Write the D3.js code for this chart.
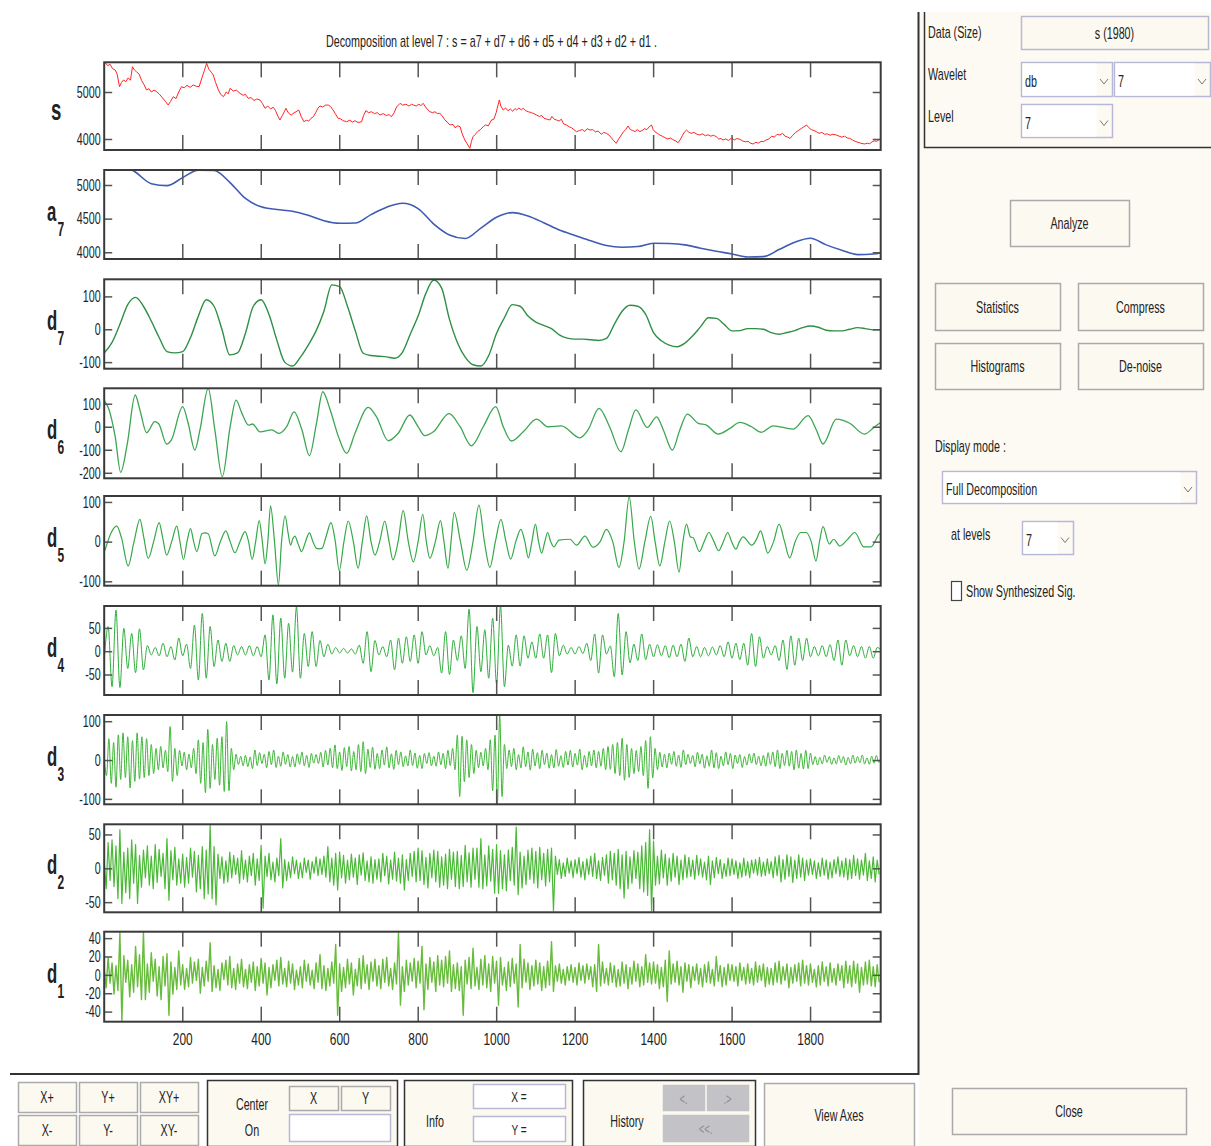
<!DOCTYPE html>
<html>
<head>
<meta charset="utf-8">
<script src="https://cdn.jsdelivr.net/npm/d3@7"></script>
<style>
body{margin:0;background:#fff;}
svg{display:block;}
text{font-family:"Liberation Sans",Arial,Helvetica,sans-serif;fill:#222;}
</style>
</head>
<body>
<svg id="fig" width="1211" height="1146"></svg>
<script>
// ---- data ----
var nSamples = 1980;
var xTicks = [200,400,600,800,1000,1200,1400,1600,1800];
var title = "Decomposition at level 7 : s = a7 + d7 + d6 + d5 + d4 + d3 + d2 + d1 .";

// s : [sample, value]
var sSig = [[1,5600],[3,5632],[10,5560],[16,5590],[22,5500],[29,5468],[34,5380],[40,5113],[45,5200],[50,5255],[56,5220],[62,5300],[68,5250],[73,5538],[78,5470],[83,5432],[90,5380],[96,5250],[103,5150],[109,5043],[115,5070],[121,5000],[128,5040],[135,5006],[142,4950],[150,4872],[157,4800],[164,4723],[170,4800],[177,4900],[184,4860],[191,5000],[198,5113],[205,5090],[212,5140],[220,5100],[228,5149],[236,5120],[243,5113],[250,5300],[256,5450],[262,5610],[268,5480],[274,5420],[279,5362],[285,5200],[292,5043],[298,4950],[305,4900],[312,5000],[317,4960],[322,5079],[330,5020],[338,5040],[347,4972],[355,4930],[361,4950],[368,4865],[375,4880],[383,4820],[390,4850],[398,4830],[404,4760],[411,4653],[418,4700],[425,4640],[432,4674],[438,4600],[444,4480],[449,4404],[455,4500],[460,4580],[464,4653],[470,4560],[474,4530],[478,4510],[485,4560],[490,4580],[497,4617],[503,4480],[510,4368],[516,4400],[522,4380],[528,4440],[534,4474],[540,4560],[546,4660],[551,4702],[558,4680],[565,4720],[572,4723],[578,4690],[584,4620],[590,4540],[597,4440],[603,4430],[610,4390],[619,4368],[627,4400],[634,4360],[640,4390],[648,4350],[657,4368],[662,4500],[668,4603],[675,4560],[682,4580],[690,4540],[697,4560],[704,4510],[712,4540],[720,4500],[727,4520],[733,4474],[740,4560],[746,4680],[755,4759],[762,4720],[770,4740],[778,4700],[784,4740],[789,4723],[796,4700],[803,4740],[808,4710],[814,4759],[820,4680],[826,4620],[831,4581],[838,4560],[844,4580],[850,4540],[856,4546],[862,4500],[868,4420],[875,4360],[882,4298],[890,4310],[895,4240],[902,4280],[908,4262],[913,4120],[920,3979],[926,3900],[933,3802],[937,3950],[941,4049],[947,4100],[953,4160],[960,4200],[967,4262],[973,4300],[980,4280],[988,4404],[994,4420],[1000,4560],[1004,4700],[1008,4830],[1012,4700],[1018,4617],[1024,4660],[1030,4600],[1036,4640],[1042,4590],[1048,4650],[1052,4617],[1058,4660],[1064,4620],[1069,4653],[1076,4600],[1082,4580],[1090,4560],[1096,4540],[1103,4510],[1110,4480],[1116,4500],[1122,4440],[1130,4420],[1137,4404],[1142,4480],[1148,4420],[1154,4404],[1160,4380],[1166,4420],[1172,4320],[1179,4298],[1186,4260],[1192,4240],[1198,4200],[1205,4156],[1212,4180],[1220,4200],[1226,4160],[1232,4220],[1239,4191],[1246,4200],[1253,4150],[1260,4170],[1268,4100],[1274,4140],[1281,4120],[1288,4080],[1294,4020],[1300,3960],[1306,3908],[1312,4000],[1319,4085],[1324,4150],[1330,4200],[1336,4277],[1342,4200],[1348,4180],[1354,4160],[1360,4200],[1366,4156],[1372,4180],[1378,4220],[1384,4200],[1390,4260],[1396,4298],[1400,4200],[1405,4150],[1411,4120],[1417,4085],[1423,4060],[1430,4030],[1437,4000],[1444,4020],[1450,3990],[1457,3960],[1464,3921],[1470,4000],[1475,4080],[1480,4150],[1485,4191],[1490,4150],[1497,4120],[1504,4140],[1512,4100],[1519,4085],[1526,4110],[1533,4070],[1540,4090],[1547,4060],[1554,4080],[1561,4049],[1567,4000],[1573,4010],[1578,3979],[1585,4000],[1592,3970],[1600,4020],[1607,3980],[1614,4010],[1621,3994],[1628,3960],[1635,3940],[1642,3950],[1648,3910],[1655,3894],[1662,3930],[1668,3910],[1675,3950],[1681,3943],[1688,3980],[1695,4000],[1702,4060],[1709,4040],[1716,4100],[1723,4085],[1730,4120],[1736,4060],[1743,4040],[1749,4014],[1756,4080],[1763,4140],[1770,4180],[1777,4220],[1784,4260],[1791,4298],[1797,4240],[1803,4200],[1810,4180],[1816,4156],[1823,4120],[1830,4140],[1837,4100],[1844,4110],[1851,4080],[1858,4100],[1867,4085],[1874,4060],[1881,4040],[1888,4060],[1895,4020],[1901,4014],[1908,3980],[1915,3950],[1922,3930],[1929,3910],[1935,3900],[1939,3894],[1946,3910],[1952,3900],[1958,3940],[1964,3960],[1970,3950],[1977,3994],[1980,3990]];

// a7 : one value every 40 samples
var a7Step = 40;
var a7Vals = [5420,5330,5190,5020,4990,5110,5220,5215,5040,4800,4675,4635,4610,4550,4470,4432,4435,4560,4670,4728,4650,4420,4258,4205,4360,4520,4590,4540,4440,4330,4250,4170,4100,4075,4085,4135,4130,4110,4060,4015,3975,3930,3935,4040,4150,4209,4110,4030,3965,3975,3990];

// d7 : one value every 20 samples
var d7Step = 20;
var d7Vals = [-72,-40,15,75,97,70,25,-25,-68,-72,-68,-25,40,90,70,0,-78,-72,-12,70,90,45,-33,-100,-112,-85,-48,-5,55,135,130,70,-5,-73,-80,-82,-84,-88,-70,-15,40,110,150,125,30,-40,-85,-108,-112,-80,-12,35,75,70,40,22,12,2,-17,-27,-30,-30,-32,-34,-28,15,55,73,70,45,-10,-35,-48,-53,-42,-20,8,35,33,15,-5,-4,2,2,0,-10,-15,-10,-4,5,10,6,-3,-5,-5,0,5,2,-2,-2];

// d6 : [sample, value]
var d6Pts = [[1,115],[3,109],[12,80],[29,-43],[43,-198],[60,-72],[80,138],[92,73],[109,-26],[130,22],[140,13],[160,-75],[172,-58],[201,87],[215,15],[232,-101],[245,-14],[266,167],[283,-14],[302,-217],[322,0],[337,116],[352,58],[369,7],[379,12],[398,-22],[428,-14],[447,-29],[466,0],[485,65],[505,-14],[524,-126],[542,15],[558,152],[577,73],[598,-43],[619,-116],[640,-29],[674,84],[695,43],[725,-61],[750,-29],[780,51],[801,0],[818,-39],[840,-22],[880,57],[908,0],[937,-83],[967,0],[999,87],[1018,0],[1039,-62],[1069,-22],[1103,33],[1132,0],[1166,4],[1213,-48],[1234,-14],[1262,80],[1289,0],[1318,-109],[1337,-14],[1356,73],[1385,-3],[1409,43],[1426,-14],[1449,-101],[1468,-14],[1487,55],[1515,15],[1536,7],[1566,-32],[1596,-7],[1621,19],[1651,0],[1676,-24],[1706,4],[1757,-10],[1795,48],[1816,-14],[1833,-75],[1867,33],[1901,15],[1939,-32],[1960,-7],[1977,15],[1980,18]];

// d5 : [sample, value]
var d5Pts = [[1,-25],[3,-21],[10,0],[20,25],[33,39],[45,10],[62,-61],[77,0],[92,56],[102,10],[113,-42],[127,0],[141,48],[150,10],[160,-34],[173,0],[186,39],[194,0],[203,-45],[212,0],[221,33],[229,0],[237,-25],[250,20],[258,22],[266,20],[283,-36],[297,0],[311,27],[322,0],[334,-28],[347,0],[360,25],[369,0],[378,-45],[387,0],[396,53],[404,0],[411,-56],[418,0],[425,90],[435,0],[445,-109],[453,0],[462,65],[470,20],[476,-9],[482,8],[487,14],[495,-5],[504,-25],[514,0],[524,22],[533,0],[542,-17],[549,-18],[556,-17],[567,15],[579,48],[590,0],[600,-73],[612,0],[623,52],[636,0],[648,-67],[659,0],[670,65],[681,0],[691,-34],[703,0],[716,52],[727,0],[737,-46],[750,0],[763,78],[776,0],[789,-51],[801,0],[813,69],[822,0],[831,-42],[845,0],[858,53],[867,0],[877,-67],[885,0],[893,73],[909,0],[925,-72],[941,0],[956,92],[970,0],[984,-65],[998,0],[1012,56],[1025,0],[1037,-44],[1050,0],[1063,31],[1073,0],[1082,-41],[1091,0],[1100,44],[1108,0],[1116,-29],[1124,0],[1131,23],[1139,0],[1147,-13],[1160,4],[1188,6],[1205,-9],[1226,14],[1247,-14],[1265,0],[1281,31],[1297,0],[1313,-65],[1326,0],[1339,113],[1352,0],[1364,-69],[1379,0],[1394,64],[1405,0],[1417,-61],[1430,0],[1442,52],[1454,0],[1466,-77],[1476,0],[1485,44],[1495,12],[1502,10],[1518,-25],[1530,0],[1542,23],[1555,0],[1567,-23],[1579,0],[1590,23],[1600,0],[1611,-19],[1620,0],[1629,12],[1652,-9],[1663,5],[1674,27],[1683,0],[1692,-29],[1707,0],[1721,44],[1735,0],[1748,-41],[1762,0],[1776,23],[1790,23],[1803,0],[1815,-49],[1824,0],[1833,38],[1849,-6],[1860,6],[1876,-11],[1895,5],[1914,23],[1937,-13],[1955,-13],[1977,19],[1980,20]];

// d4 : one value every 10 samples
var d4Step = 10;
var d4Vals = [-19,53,-76,88,-78,49,-37,38,-46,48,-40,12,-8,8,-10,17,-12,10,-19,28,-10,15,-37,56,-62,81,-58,53,-33,24,-22,17,-22,12,-8,10,-8,12,-10,10,-12,35,-62,78,-70,71,-58,60,-45,95,-58,38,-33,42,-33,23,-12,15,-6,8,-4,6,-4,5,-6,13,-26,42,-44,23,-8,10,-12,24,-40,28,-26,31,-22,35,-26,42,-8,12,-10,8,-47,42,-50,24,-20,33,-37,90,-89,53,-44,46,-58,71,-70,97,-76,13,-32,35,-32,33,-15,20,-15,37,-15,35,-46,38,-10,13,-6,8,-6,10,-5,17,-20,37,-47,35,-6,11,-55,81,-51,42,-25,15,-20,37,-18,15,-12,14,-10,12,-14,13,-12,15,-22,28,-12,10,-12,8,-10,9,-8,12,-12,20,-15,17,-18,17,-30,38,-33,31,-15,10,-8,12,-20,24,-39,33,-30,28,-20,28,-12,10,-10,12,-12,14,-20,24,-30,24,-10,12,-12,10,-15,10,-15,8,3];

// d3 : one value every 6 samples
var d3Step = 6;
var d3Vals = [
 5,-40,55,-60,45,-70,65,-50,70,-45, 60,-72,50,-55,70,-49,60,-45,55,-40,
 40,-35,30,-25,35,-20,25,-30,86,-55, 30,-40,25,-15,20,-25,15,-20,30,-35,
 52,-60,45,-84,79,-73,40,-50,56,-65, 60,-81,99,-79,30,-25,15,-12,10,-15,
 12,-17,8,-22,26,-14,19,-9,15,-20, 22,-12,26,-19,10,-16,21,-11,14,-18,
 9,-18,16,-11,21,-15,12,-19,17,-8, 14,-9,20,-18,25,-13,30,-20,39,-22,
 21,-27,32,-17,35,-28,22,-25,40,-30, 47,-35,28,-19,33,-24,17,-22,26,-13,
 34,-20,16,-24,25,-12,21,-17,11,-15, 26,-14,18,-21,12,-22,17,-9,19,-15,
 10,-16,21,-12,17,-22,25,-14,30,-25, 64,-94,61,-56,52,-45,40,-35,25,-20,
 20,-15,30,-25,52,-79,64,-114,116,-94, 40,-22,26,-17,30,-25,14,-20,34,-17,
 21,-26,28,-15,19,-22,25,-12,18,-21, 14,-20,27,-16,11,-19,22,-13,25,-18,
 17,-13,28,-25,12,-19,22,-15,26,-20, 22,-16,30,-25,35,-24,40,-35,45,-40,
 56,-52,40,-45,30,-35,25,-30,35,-40, 50,-73,60,-46,30,-25,20,-18,15,-20,
 18,-11,22,-16,13,-19,26,-12,15,-9, 12,-17,20,-10,15,-21,11,-16,26,-20,
 19,-22,10,-15,21,-12,17,-22,13,-9, 14,-19,9,-13,16,-8,18,-12,10,-15,
 12,-16,19,-11,21,-17,26,-22,17,-14, 25,-16,22,-25,26,-21,17,-23,25,-22,
 18,-12,9,-13,7,-10,13,-6,9,-11, 6,-10,12,-7,9,-13,7,-10,13,-8,
 9,-7,13,-10,6,-11,10,-8,12,-6, 3];

// d2 : one value every 5 samples
var d2Step = 5;
var d2Vals = [
 10,-30,38,-18,42,-27,33,-45,57,-52,24,-36,30,-45,42,-22,35,-52,19,-28,
 27,-14,33,-25,18,-30,35,-21,28,-12,22,-30,44,-47,26,-17,31,-25,14,-22,
 21,-28,16,-22,30,-13,25,-35,19,-30,32,-45,27,-38,64,-45,32,-54,21,-15,
 17,-22,11,-20,24,-14,19,-9,15,-22,26,-16,12,-20,18,-11,22,-25,14,-18,
 34,-59,18,-12,22,-17,9,-20,15,-11,44,-29,13,-18,9,-14,17,-8,12,-15,
 8,-14,15,-6,12,-16,10,-7,17,-11,14,-9,18,-13,32,-20,15,-25,22,-32,
 24,-14,19,-22,12,-17,21,-13,15,-24,20,-10,23,-18,11,-20,17,-22,13,-16,
 14,-20,22,-11,18,-23,12,-16,24,-19,15,-22,20,-32,13,-18,22,-12,25,-20,
 30,-18,26,-24,16,-29,22,-14,27,-20,25,-28,17,-25,21,-30,28,-16,24,-27,
 25,-30,19,-27,34,-20,23,-28,30,-16,30,-28,44,-30,20,-26,33,-19,28,-37,
 35,-37,26,-30,20,-33,27,-18,31,-25,61,-39,24,-29,18,-24,27,-16,30,-22,
 25,-29,31,-17,22,-26,28,-20,30,-63,18,-9,13,-15,8,-12,15,-7,11,-14,
 13,-8,16,-13,10,-17,14,-9,18,-12,22,-15,11,-18,16,-10,20,-22,25,-17,
 22,-25,28,-30,20,-44,25,-30,17,-22,26,-15,24,-30,33,-35,38,-40,57,-63,
 40,-25,18,-23,27,-14,21,-25,15,-19,22,-13,18,-24,12,-17,20,-14,16,-12,
 12,-16,19,-10,14,-13,9,-17,18,-24,11,-14,16,-8,13,-15,7,-12,15,-11,
 14,-9,11,-15,8,-13,15,-11,10,-14,12,-7,13,-10,16,-12,9,-11,14,-8,
 10,-14,17,-11,19,-20,13,-16,20,-12,17,-21,12,-15,20,-13,15,-18,12,-10,
 14,-9,11,-15,8,-12,15,-10,12,-16,9,-14,13,-8,17,-12,11,-13,15,-17,
 13,-15,19,-11,14,-16,12,-10,22,-18,11,-15,17,-20,12,-9];

// d1 : one value every 5 samples
var d1Step = 5;
var d1Vals = [
 6,-14,19,-9,13,-21,10,-17,46,-50,21,-8,16,-24,11,-19,31,-13,22,-27,
 47,-27,12,-19,24,-7,17,-23,9,-27,20,-12,23,-44,14,-21,8,-16,26,-11,
 11,-16,7,-13,19,-9,14,-6,17,-20,8,-12,15,-7,35,-18,10,-14,6,-17,
 13,-5,16,-11,20,-14,7,-16,12,-9,17,-13,6,-15,11,-8,14,-17,9,-12,
 18,-9,13,-22,8,-14,11,-6,16,-12,19,-10,7,-13,15,-9,12,-16,5,-11,
 9,-14,16,-7,12,-11,5,-15,13,-8,22,-15,10,-17,7,-12,14,-9,33,-44,
 12,-18,8,-14,17,-10,13,-22,6,-12,18,-15,21,-9,11,-16,14,-7,17,-12,
 10,-15,17,-8,19,-12,7,-16,13,-10,46,-33,9,-18,16,-11,13,-7,18,-14,
 15,-9,31,-38,12,-16,19,-8,14,-18,21,-11,16,-13,20,-9,26,-18,11,-15,
 13,-17,9,-44,16,-10,19,-15,29,-12,8,-16,17,-11,21,-14,12,-18,20,-9,
 15,-33,19,-11,8,-17,14,-13,18,-9,12,-35,33,-14,17,-8,13,-16,10,-12,
 16,-10,13,-17,9,-14,15,-11,36,-18,10,-7,12,-9,6,-11,9,-6,11,-8,
 8,-11,13,-6,10,-9,12,-5,9,-13,11,-18,33,-12,14,-9,7,-11,13,-8,
 10,-13,6,-12,14,-9,11,-15,8,-10,15,-7,12,-13,9,-11,22,-8,13,-10,
 14,-9,11,-15,8,-13,16,-29,26,-10,12,-8,15,-11,9,-19,13,-7,11,-14,
 9,-6,12,-10,7,-13,11,-8,14,-9,6,-12,20,-7,10,-13,8,-11,12,-6,
 11,-7,9,-12,13,-6,8,-10,12,-9,7,-11,14,-8,10,-6,12,-13,8,-10,
 7,-11,13,-8,15,-10,9,-6,12,-14,8,-9,11,-7,13,-12,16,-9,10,-11,
 12,-8,6,-13,10,-11,14,-7,9,-12,13,-8,7,-11,12,-6,10,-14,15,-9,
 10,-13,15,-9,12,-19,8,-11,14,-10,16,-12,9,-13,11,-8];

// y limits and tick values of each panel
var sLim = [3766,5632],  sTicks = [4000,5000];
var a7Lim = [3900,5223], a7Ticks = [4000,4500,5000];
var d7Lim = [-120,152],  d7Ticks = [-100,0,100];
var d6Lim = [-224,167],  d6Ticks = [-200,-100,0,100];
var d5Lim = [-111,115],  d5Ticks = [-100,0,100];
var d4Lim = [-94,97],    d4Ticks = [-50,0,50];
var d3Lim = [-114,116],  d3Ticks = [-100,0,100];
var d2Lim = [-65,65],    d2Ticks = [-50,0,50];
var d1Lim = [-51,47],    d1Ticks = [-40,-20,0,20,40];

// ---- drawing ----
var svg = d3.select("#fig");
var SX = 0.67;

function label(parent, x, y, str, o) {
	o = o || {};
	var t = parent.append("text")
		.attr("transform", "translate(" + x + "," + y + ") scale(" + (o.sx || SX) + ",1)")
		.attr("text-anchor", o.anchor || "start")
		.style("font-size", (o.size || 15) + "px")
		.text(str);
	if (o.bold) t.style("font-weight", "bold");
	if (o.fill) t.style("fill", o.fill);
	if (o.len) t.attr("textLength", o.len / (o.sx || SX)).attr("lengthAdjust", "spacingAndGlyphs");
	return t;
}
function stepped(vals, step) {
	return vals.map(function(v, i) { return [Math.min(1 + i * step, nSamples), v]; });
}
var plain = function(d) { return String(d); };

var x = d3.scaleLinear().domain([1, nSamples]).range([104.2, 880.7]);

var panels = [
	{name:"s",  sub:"",  pts:sSig,                    lim:sLim,  ticks:sTicks,  top:62.3,  bot:150,   color:"#ff2424", w:1,   curve:d3.curveLinear},
	{name:"a",  sub:"7", pts:stepped(a7Vals, a7Step), lim:a7Lim, ticks:a7Ticks, top:170,   bot:259,   color:"#3f5bb5", w:1.6, curve:d3.curveMonotoneX},
	{name:"d",  sub:"7", pts:stepped(d7Vals, d7Step), lim:d7Lim, ticks:d7Ticks, top:279.3, bot:368.7, color:"#2f8f45", w:1.4, curve:d3.curveMonotoneX},
	{name:"d",  sub:"6", pts:d6Pts,                   lim:d6Lim, ticks:d6Ticks, top:388.3, bot:478.3, color:"#3ca552", w:1.3, curve:d3.curveMonotoneX},
	{name:"d",  sub:"5", pts:d5Pts,                   lim:d5Lim, ticks:d5Ticks, top:496,   bot:585.7, color:"#35a847", w:1.2, curve:d3.curveMonotoneX},
	{name:"d",  sub:"4", pts:stepped(d4Vals, d4Step), lim:d4Lim, ticks:d4Ticks, top:606,   bot:695,   color:"#2fae3c", w:1,   curve:d3.curveMonotoneX},
	{name:"d",  sub:"3", pts:stepped(d3Vals, d3Step), lim:d3Lim, ticks:d3Ticks, top:715,   bot:804.3, color:"#3db535", w:1,   curve:d3.curveMonotoneX},
	{name:"d",  sub:"2", pts:stepped(d2Vals, d2Step), lim:d2Lim, ticks:d2Ticks, top:824.3, bot:912.3, color:"#4ab936", w:1.2, curve:d3.curveLinear},
	{name:"d",  sub:"1", pts:stepped(d1Vals, d1Step), lim:d1Lim, ticks:d1Ticks, top:931.7, bot:1021.7,color:"#68bc3c", w:1.4, curve:d3.curveLinear}
];

label(svg, 491.5, 47, title, {anchor:"middle", size:16, len:331});

panels.forEach(function(p, i) {
	var y = d3.scaleLinear().domain(p.lim).range([p.bot, p.top]);
	var g = svg.append("g");
	var cid = "clip" + i;
	svg.append("clipPath").attr("id", cid).append("rect")
		.attr("x", x.range()[0]).attr("y", p.top)
		.attr("width", x.range()[1] - x.range()[0]).attr("height", p.bot - p.top);

	var line = d3.line().x(function(d) { return x(d[0]); }).y(function(d) { return y(d[1]); }).curve(p.curve);
	g.append("path").datum(p.pts)
		.attr("clip-path", "url(#" + cid + ")")
		.attr("fill", "none").attr("stroke", p.color).attr("stroke-width", p.w)
		.attr("stroke-linejoin", "round")
		.attr("d", line);

	var last = (i === panels.length - 1);
	var axB = g.append("g").attr("transform", "translate(0," + p.bot + ")")
		.call(d3.axisBottom(x).tickValues(xTicks).tickSize(-15).tickPadding(11).tickFormat(last ? plain : ""));
	var axT = g.append("g").attr("transform", "translate(0," + p.top + ")")
		.call(d3.axisTop(x).tickValues(xTicks).tickSize(-15).tickFormat(""));
	var axL = g.append("g").attr("transform", "translate(" + x.range()[0] + ",0)")
		.call(d3.axisLeft(y).tickValues(p.ticks).tickSize(-8).tickFormat(plain));
	var axR = g.append("g").attr("transform", "translate(" + x.range()[1] + ",0)")
		.call(d3.axisRight(y).tickValues(p.ticks).tickSize(-8).tickFormat(""));
	[axB, axT, axL, axR].forEach(function(a) {
		a.select(".domain").remove();
		a.attr("color", "#555").selectAll("line").attr("stroke-width", 1.5);
		a.selectAll("text").style("font-size", "16px").style("fill", "#222");
	});
	axL.selectAll("text").attr("x", -3.5 / SX).attr("dy", "0.33em").attr("transform", "scale(" + SX + ",1)");
	axB.selectAll("text").style("font-size", "17px").attr("transform", "scale(0.7,1)");

	g.append("rect").attr("x", x.range()[0]).attr("y", p.top)
		.attr("width", x.range()[1] - x.range()[0]).attr("height", p.bot - p.top)
		.attr("fill", "none").attr("stroke", "#3a3a3a").attr("stroke-width", 2);

	var mid = (p.top + p.bot) / 2;
	if (p.sub === "") {
		label(svg, 51, mid + 14, p.name, {size:30, bold:true, sx:0.62});
	} else {
		label(svg, 47, mid + 6, p.name, {size:27, bold:true, sx:0.62});
		label(svg, 57.5, mid + 21, p.sub, {size:20, bold:true, sx:0.6});
	}
});

// ---- GUI parts ----
var gui = svg.append("g");
var cream = "#fcfaf2";
gui.append("rect").attr("x", 919).attr("y", 12).attr("width", 292).attr("height", 1134).attr("fill", cream);
gui.append("line").attr("x1", 918.5).attr("x2", 918.5).attr("y1", 12).attr("y2", 1075)
	.attr("stroke", "#333").attr("stroke-width", 2);
gui.append("path").attr("d", "M924.5,12V147.5H1211").attr("fill", "none").attr("stroke", "#333").attr("stroke-width", 1.5);
gui.append("line").attr("x1", 10).attr("x2", 919).attr("y1", 1074).attr("y2", 1074)
	.attr("stroke", "#333").attr("stroke-width", 2);

function button(x0, y0, w, h, str, o) {
	o = o || {};
	gui.append("rect").attr("x", x0 + 0.5).attr("y", y0 + 0.5).attr("width", w).attr("height", h)
		.attr("fill", o.fill || "#fcf9f0").attr("stroke", o.stroke || "#aaaaaa").attr("stroke-width", 1.5);
	if (str) label(gui, x0 + w / 2, y0 + h / 2 + 6, str, {anchor:"middle", size:o.size || 16, fill:o.color});
}
function chevron(cx, cy) {
	gui.append("path").attr("d", "M" + (cx - 4) + "," + (cy - 2) + "L" + cx + "," + (cy + 3) + "L" + (cx + 4) + "," + (cy - 2))
		.attr("fill", "none").attr("stroke", "#777").attr("stroke-width", 1);
}
function popup(x0, y0, w, h, str) {
	gui.append("rect").attr("x", x0 + 0.5).attr("y", y0 + 0.5).attr("width", w).attr("height", h)
		.attr("fill", cream).attr("stroke", "#b8b8d8").attr("stroke-width", 1.5);
	gui.append("rect").attr("x", x0 + 1.5).attr("y", y0 + 1.5).attr("width", w - 17).attr("height", h - 2).attr("fill", "#fff");
	label(gui, x0 + 4, y0 + h / 2 + 8, str, {size:16});
	chevron(x0 + w - 8, y0 + h / 2 + 2);
}
function frame(x0, y0, w, h) {
	gui.append("rect").attr("x", x0 + 0.5).attr("y", y0 + 0.5).attr("width", w).attr("height", h)
		.attr("fill", "#fcf9f0").attr("stroke", "#333").attr("stroke-width", 1.5);
}
function field(x0, y0, w, h, str) {
	gui.append("rect").attr("x", x0 + 0.5).attr("y", y0 + 0.5).attr("width", w).attr("height", h)
		.attr("fill", "#fff").attr("stroke", "#b8b8d8").attr("stroke-width", 1.5);
	if (str) label(gui, x0 + w / 2, y0 + h / 2 + 6, str, {anchor:"middle", size:15});
}

label(gui, 928, 38, "Data  (Size)", {size:16});
button(1021, 16, 187, 33, "s  (1980)", {stroke:"#b8b8d0", size:16});
label(gui, 928, 80, "Wavelet", {size:16});
popup(1021, 62, 91, 34, "db");
popup(1114, 62, 96, 34, "7");
label(gui, 928, 122, "Level", {size:16});
popup(1021, 104, 91, 33, "7");

button(1010, 200, 119, 46, "Analyze");
button(935, 283, 125, 47, "Statistics");
button(1078, 283, 125, 47, "Compress");
button(935, 343, 125, 46, "Histograms");
button(1078, 343, 125, 46, "De-noise");

label(gui, 935, 452, "Display mode :", {size:16});
popup(942, 471, 254, 32, "Full Decomposition");
label(gui, 951, 540, "at levels", {size:16});
popup(1022, 521, 51, 33, "7");
gui.append("rect").attr("x", 951.5).attr("y", 581.5).attr("width", 10).attr("height", 19)
	.attr("fill", "#fff").attr("stroke", "#444").attr("stroke-width", 1.2);
label(gui, 966, 597, "Show Synthesized Sig.", {size:16});

// bottom bar
button(18, 1082, 58, 30, "X+");
button(79, 1082, 58, 30, "Y+");
button(140, 1082, 58, 30, "XY+");
button(18, 1115, 58, 30, "X-");
button(79, 1115, 58, 30, "Y-");
button(140, 1115, 58, 30, "XY-");

frame(207, 1080, 190, 66);
label(gui, 252, 1110, "Center", {anchor:"middle", size:16});
label(gui, 252, 1136, "On", {anchor:"middle", size:16});
button(289, 1086, 49, 24, "X");
button(341, 1086, 49, 24, "Y");
field(289, 1114, 101, 27, "");

frame(404, 1080, 168, 66);
label(gui, 435, 1127, "Info", {anchor:"middle", size:16});
field(473, 1084, 92, 24, "X =");
field(473, 1116, 92, 25, "Y =");

frame(583, 1080, 172, 66);
label(gui, 627, 1127, "History", {anchor:"middle", size:16});
button(663, 1085, 41, 25, "<.", {fill:"#c3c3c7", stroke:"#c3c3c7", color:"#8a8a8a", size:14});
button(707, 1085, 41, 25, ".>", {fill:"#c3c3c7", stroke:"#c3c3c7", color:"#8a8a8a", size:14});
button(663, 1115, 85, 26, "<<.", {fill:"#c3c3c7", stroke:"#c3c3c7", color:"#8a8a8a", size:14});

button(764, 1083, 150, 63, "View Axes");
button(952, 1088, 234, 46, "Close");
</script>
</body>
</html>
